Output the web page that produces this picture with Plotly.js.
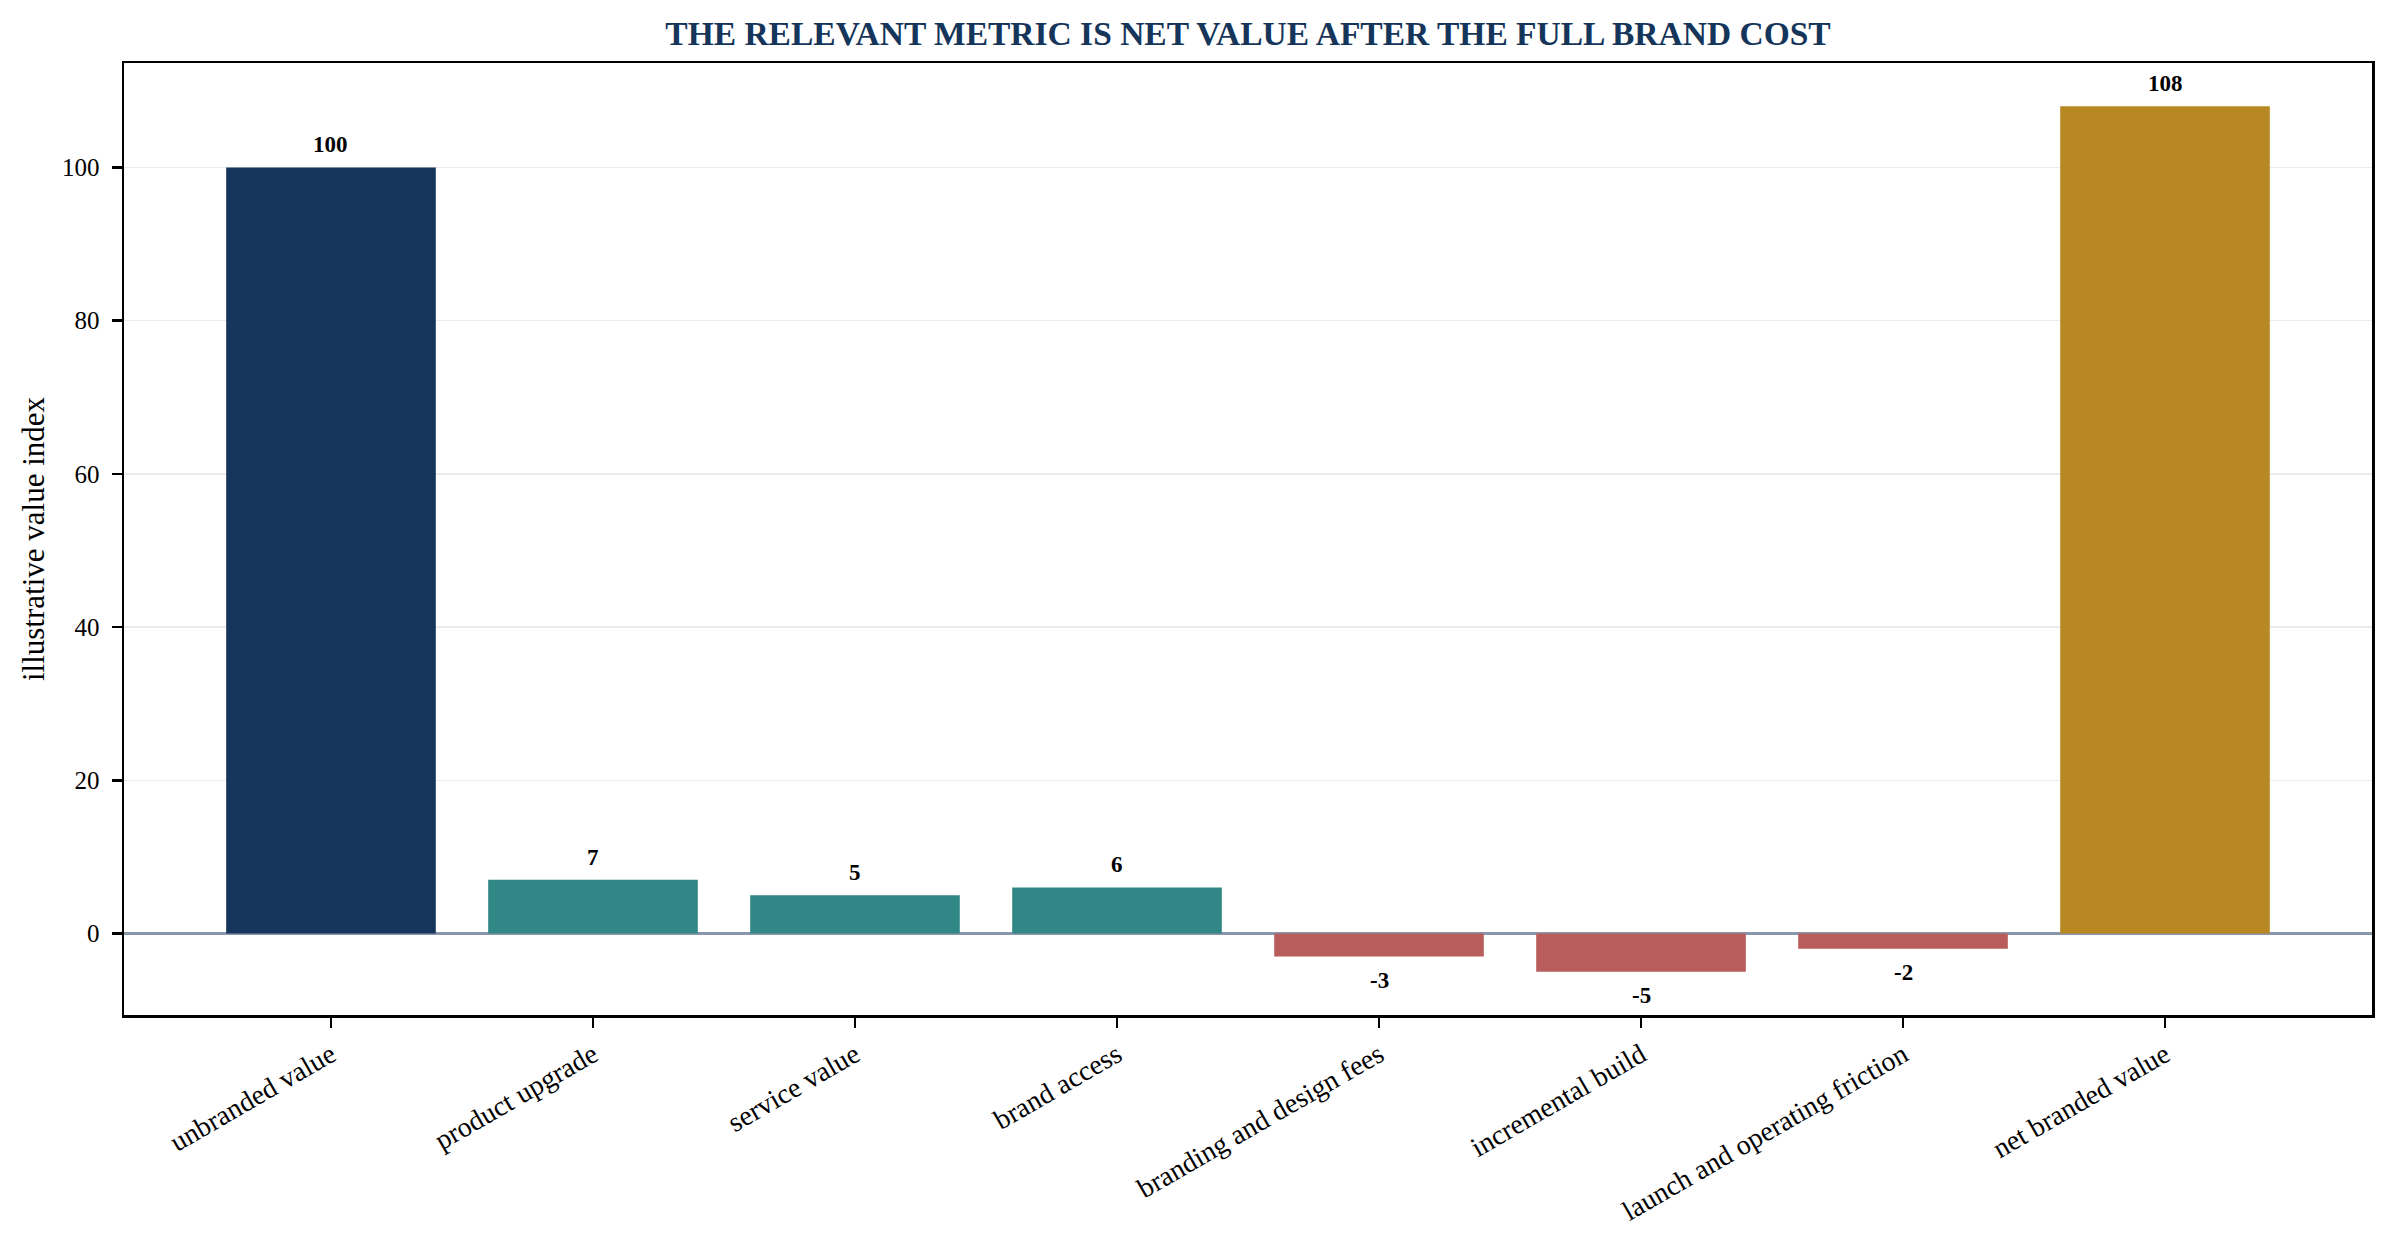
<!DOCTYPE html>
<html>
<head>
<meta charset="utf-8">
<script src="https://cdn.plot.ly/plotly-3.0.1.min.js"></script>
<style>
  html, body { margin: 0; padding: 0; background: #ffffff; }
  #plot { width: 2393px; height: 1233px; }
</style>
</head>
<body>
<div id="plot"></div>
<script>
// chart data
const categories = [
    'unbranded value', 'product upgrade', 'service value', 'brand access',
    'branding and design fees', 'incremental build', 'launch and operating friction', 'net branded value'
];
const values = [100, 7, 5, 6, -3, -5, -2, 108];
const barColors = ['#15355a', '#308785', '#308785', '#308785', '#b85c5c', '#b85c5c', '#b85c5c', '#b88822'];
const yTicks = [0, 20, 40, 60, 80, 100];
const labelOffset = 2; // value units between bar end and its label

const serif = 'Liberation Serif, Times New Roman, serif';

const valueLabels = values.map(function(v, i) {
    return {
        x: categories[i],
        y: v >= 0 ? v + labelOffset : v - labelOffset,
        yanchor: v >= 0 ? 'bottom' : 'top',
        yshift: v >= 0 ? -7 : 6, // plotly text box is a bit taller than mpl's
        xanchor: 'center',
        text: String(v),
        showarrow: false,
        font: { family: serif, size: 23, color: '#000000', weight: 'bold' }
    };
});

const trace = {
    type: 'bar',
    x: categories,
    y: values,
    width: 0.8,
    marker: { color: barColors, line: { width: 0 } },
    hoverinfo: 'skip'
};

const layout = {
    width: 2393,
    height: 1233,
    margin: { l: 124, r: 21, t: 63, b: 218 },
    paper_bgcolor: '#ffffff',
    plot_bgcolor: '#ffffff',
    showlegend: false,
    font: { family: serif, color: '#000000' },
    title: {
        text: 'THE RELEVANT METRIC IS NET VALUE AFTER THE FULL BRAND COST',
        font: { family: serif, size: 33.5, color: '#15355a', weight: 'bold' },
        x: 0.5, xref: 'paper', xanchor: 'center',
        y: 0.973, yref: 'container', yanchor: 'middle'
    },
    xaxis: {
        type: 'category',
        range: [-0.79, 7.79],
        showgrid: false,
        showline: true, linecolor: '#000000', linewidth: 2.5, mirror: true,
        ticks: 'outside', ticklen: 10, tickwidth: 2, tickcolor: '#000000',
        tickangle: -30,
        tickfont: { family: serif, size: 28, color: '#000000' },
        zeroline: false
    },
    yaxis: {
        range: [-10.65, 113.65],
        tickvals: yTicks,
        ticktext: yTicks.map(String),
        showgrid: true, gridcolor: '#ebebeb', gridwidth: 1.5,
        zeroline: true, zerolinecolor: '#8a96aa', zerolinewidth: 3,
        showline: true, linecolor: '#000000', linewidth: 2.5, mirror: true,
        ticks: 'outside', ticklen: 10, tickwidth: 2.5, tickcolor: '#000000',
        ticklabelstandoff: 7,
        tickfont: { family: serif, size: 25, color: '#000000' },
        title: {
            text: 'illustrative value index',
            font: { family: serif, size: 31, color: '#000000' },
            standoff: 8
        }
    },
    annotations: valueLabels,
    bargap: 0.2
};

Plotly.newPlot('plot', [trace], layout, { displayModeBar: false, staticPlot: true });
</script>
</body>
</html>
